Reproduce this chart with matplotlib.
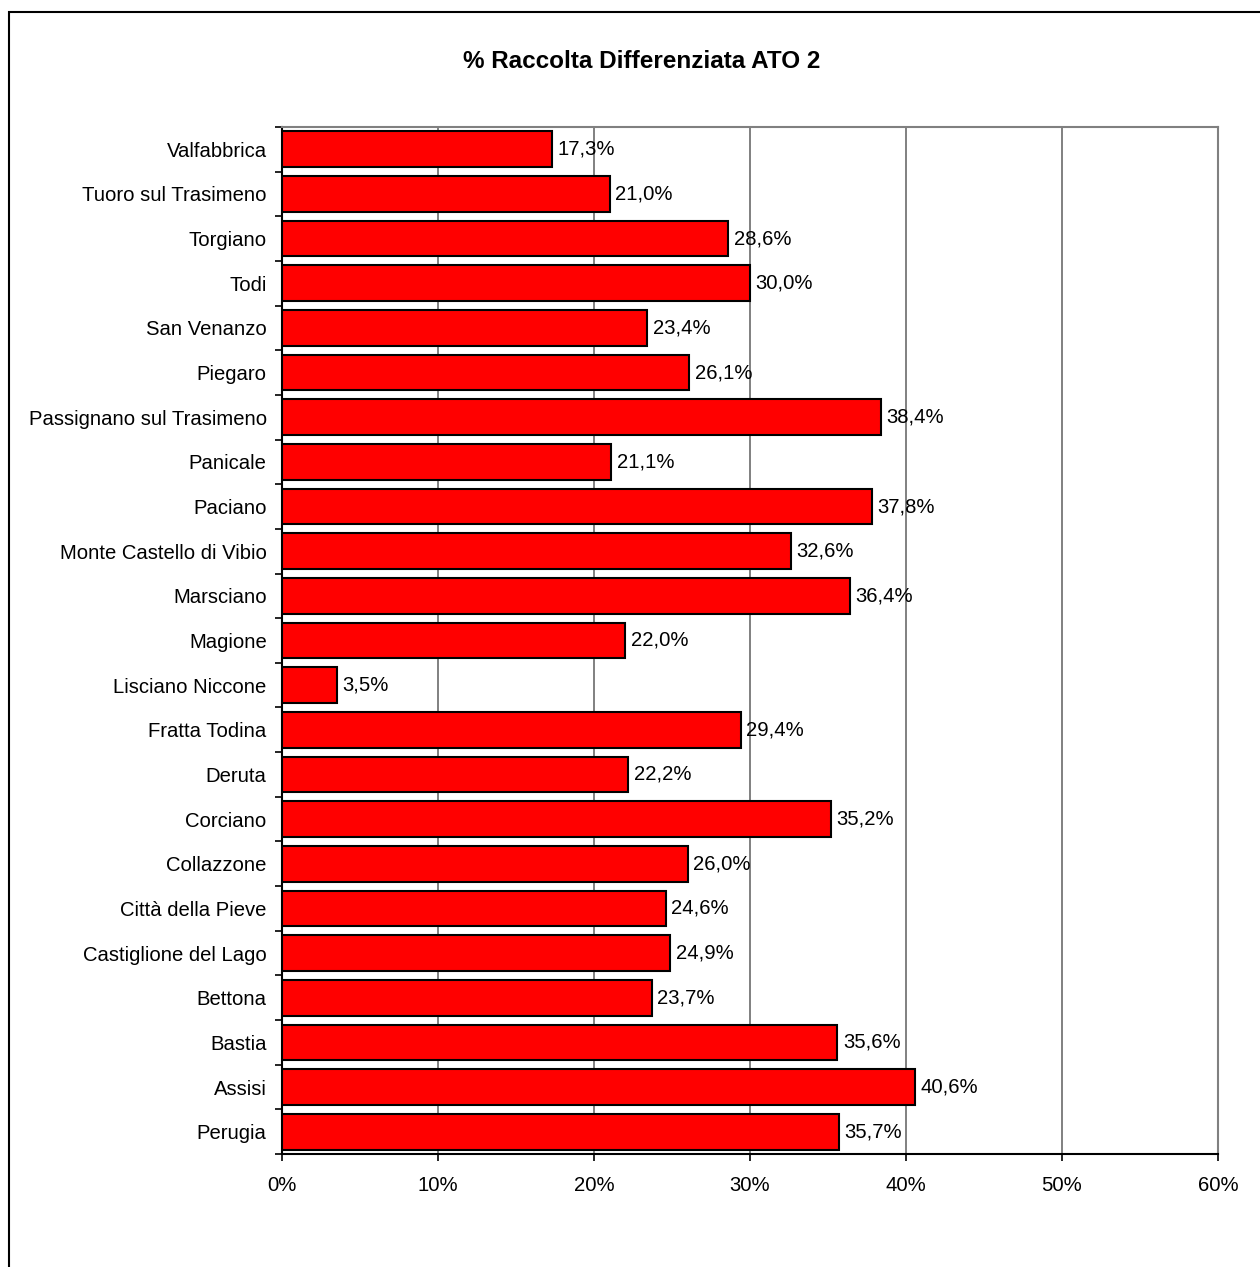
import matplotlib
matplotlib.use("Agg")
import matplotlib.pyplot as plt
from matplotlib.patches import Rectangle
from matplotlib.ticker import FixedLocator

plt.rcParams['font.family'] = ['Liberation Sans', 'DejaVu Sans']

# Municipalities, listed from the bottom of the chart to the top
comuni = [
    "Perugia", "Assisi", "Bastia", "Bettona", "Castiglione del Lago",
    "Città della Pieve", "Collazzone", "Corciano", "Deruta", "Fratta Todina",
    "Lisciano Niccone", "Magione", "Marsciano", "Monte Castello di Vibio",
    "Paciano", "Panicale", "Passignano sul Trasimeno", "Piegaro",
    "San Venanzo", "Todi", "Torgiano", "Tuoro sul Trasimeno", "Valfabbrica",
]
# Share of separate waste collection (%)
percentuali = [
    35.7, 40.6, 35.6, 23.7, 24.9,
    24.6, 26.0, 35.2, 22.2, 29.4,
    3.5, 22.0, 36.4, 32.6,
    37.8, 21.1, 38.4, 26.1,
    23.4, 30.0, 28.6, 21.0, 17.3,
]
x_ticks = [0, 10, 20, 30, 40, 50, 60]
x_tick_labels = ["0%", "10%", "20%", "30%", "40%", "50%", "60%"]
titolo = "% Raccolta Differenziata ATO 2"

FS = 14.6

W, H = 1260, 1267
fig = plt.figure(figsize=(W / 100, H / 100), dpi=100)
ax = fig.add_axes([282 / W, 1 - 1154 / H, (1218 - 282) / W, (1154 - 127) / H])

pos = list(range(len(comuni)))
ax.barh(pos, percentuali, height=0.8, color="#ff0000", edgecolor="black",
        linewidth=1.5, zorder=3)

for y, v in zip(pos, percentuali):
    ax.annotate(f"{v:.1f}%".replace(".", ","), xy=(v, y), xytext=(4, 0),
                textcoords="offset points", va="center", ha="left",
                fontsize=FS, zorder=4)

ax.set_xlim(0, 60)
ax.set_ylim(-0.5, len(comuni) - 0.5)
ax.set_xticks(x_ticks)
ax.set_xticklabels(x_tick_labels, fontsize=FS)
ax.set_yticks(pos)
ax.set_yticklabels(comuni, fontsize=FS)
ax.yaxis.set_minor_locator(FixedLocator([p - 0.5 for p in pos] + [len(comuni) - 0.5]))
ax.tick_params(axis="y", which="major", length=0, pad=11)
ax.tick_params(axis="y", which="minor", length=5, width=1.2, direction="out")
ax.tick_params(axis="x", which="major", length=5, width=1.2, direction="out", pad=11)

ax.grid(axis="x", color="#808080", linewidth=1.4, zorder=0)
ax.set_axisbelow(True)
for side in ("left", "bottom"):
    ax.spines[side].set_color("black")
    ax.spines[side].set_linewidth(1.5)
for side in ("top", "right"):
    ax.spines[side].set_color("#808080")
    ax.spines[side].set_linewidth(1.5)

fig.text(642 / W, 1 - 62 / H, titolo, ha="center", va="center",
         fontsize=17.5, fontweight="bold")

# Chart frame
fig.patches.append(Rectangle((8.5 / W, -0.05), 1.2, 1 - 12 / H + 0.05,
                             transform=fig.transFigure, fill=False,
                             edgecolor="black", linewidth=1.5))

fig.savefig("out.png", dpi=100)
